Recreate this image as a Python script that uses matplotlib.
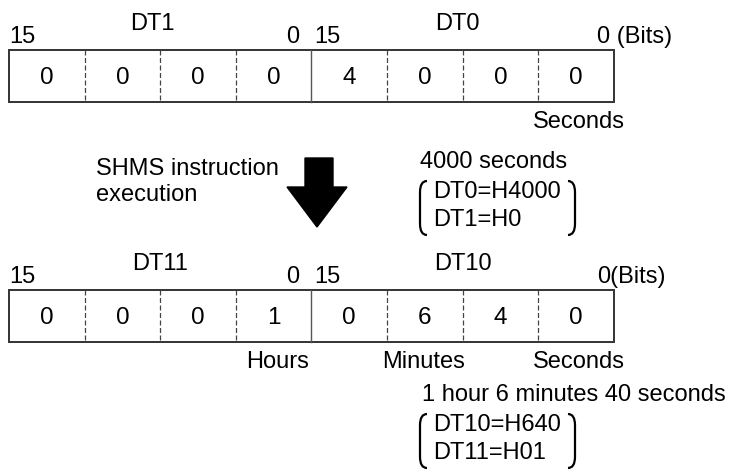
import matplotlib
matplotlib.use("Agg")
import matplotlib.pyplot as plt
from matplotlib.patches import Rectangle, Polygon, PathPatch
from matplotlib.path import Path

plt.rcParams['font.family'] = ['Liberation Sans', 'DejaVu Sans']

# data
before_digits = ['0', '0', '0', '0', '4', '0', '0', '0']
after_digits = ['0', '0', '0', '1', '0', '6', '4', '0']
before_regs = ['DT1', 'DT0']
after_regs = ['DT11', 'DT10']
before_units = {7: 'Seconds'}
after_units = {3: 'Hours', 5: 'Minutes', 7: 'Seconds'}
before_note = ['4000 seconds', 'DT0=H4000', 'DT1=H0']
after_note = ['1 hour 6 minutes 40 seconds', 'DT10=H640', 'DT11=H01']
action = 'SHMS instruction\nexecution'

fig = plt.figure(figsize=(7.31, 4.70), dpi=100)
ax = fig.add_axes([0, 0, 1, 1])
ax.set_xlim(0, 731)
ax.set_ylim(470, 0)
ax.axis('off')

FS = 17
x0, cw = 9, 75.6


def register_row(top, digits, regs, units, bits_label, reg_shift):
    h = 52
    ax.add_patch(Rectangle((x0, top), cw * 8, h, fill=False, ec='#333333', lw=1.4))
    for i in range(1, 8):
        x = x0 + i * cw
        if i == 4:
            ax.plot([x, x], [top, top + h], color='#555555', lw=1.0)
        else:
            ax.plot([x, x], [top, top + h], color='#444444', lw=0.9, ls=(0, (4, 2)))
    for i, d in enumerate(digits):
        ax.text(x0 + (i + 0.5) * cw, top + h / 2 + 2, d, fontsize=FS + 0.5, ha='center', va='center')
    # register names and bit numbers
    ax.text(x0 + 2 * cw + reg_shift[0], top - 26, regs[0], fontsize=FS, ha='center', va='center')
    ax.text(x0 + 6 * cw + reg_shift[1], top - 26, regs[1], fontsize=FS, ha='center', va='center')
    ax.text(x0, top - 13, '15', fontsize=FS, ha='left', va='center')
    ax.text(x0 + 4 * cw - 12, top - 13, '0', fontsize=FS, ha='right', va='center')
    ax.text(x0 + 4 * cw + 3, top - 13, '15', fontsize=FS, ha='left', va='center')
    ax.text(x0 + 8 * cw - 17, top - 13, bits_label, fontsize=FS, ha='left', va='center')
    for i, u in units.items():
        if i == 3:
            # hours label sits against the DT11/DT10 boundary
            ax.text(x0 + 4 * cw - 2, top + h + 20, u, fontsize=FS, ha='right', va='center')
        else:
            ax.text(x0 + i * cw - 5, top + h + 20, u, fontsize=FS, ha='left', va='center')


def bracket(xl, xr, ytop, ybot):
    r = 7
    left = Path([(xl + r, ytop), (xl, ytop), (xl, ytop + r * 1.6),
                 (xl, ybot - r * 1.6), (xl, ybot), (xl + r, ybot)],
                [Path.MOVETO, Path.CURVE3, Path.CURVE3, Path.LINETO, Path.CURVE3, Path.CURVE3])
    right = Path([(xr - r, ytop), (xr, ytop), (xr, ytop + r * 1.6),
                  (xr, ybot - r * 1.6), (xr, ybot), (xr - r, ybot)],
                 [Path.MOVETO, Path.CURVE3, Path.CURVE3, Path.LINETO, Path.CURVE3, Path.CURVE3])
    for p in (left, right):
        ax.add_patch(PathPatch(p, fill=False, lw=1.6, ec='black'))


def note(xt, ytitle, lines, xr):
    ax.text(xt, ytitle, lines[0], fontsize=FS, ha='left', va='center')
    ax.text(433, ytitle + 30, lines[1], fontsize=FS, ha='left', va='center')
    ax.text(433, ytitle + 58, lines[2], fontsize=FS, ha='left', va='center')
    bracket(420, xr, ytitle + 19, ytitle + 73)


register_row(50, before_digits, before_regs, before_units, '0 (Bits)', (-8, -5))
register_row(290, after_digits, after_regs, after_units, '0(Bits)', (0, 0))

# arrow
ax.add_patch(Polygon([(305, 158), (333, 158), (333, 187), (347, 187), (317, 227),
                      (287, 187), (305, 187)], closed=True, fc='black', ec='black'))
ax.text(96, 182, action, fontsize=FS, ha='left', va='center', linespacing=1.25)

note(420, 162, before_note, 575)
note(422, 395, after_note, 575)

fig.savefig('out.png', dpi=100)
